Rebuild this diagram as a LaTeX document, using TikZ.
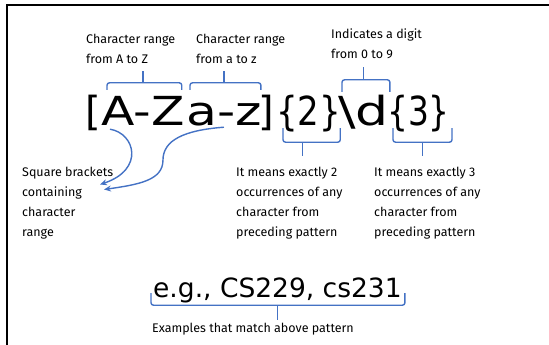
\documentclass[tikz,border=0pt]{standalone}
\usepackage{fontspec}
\setmainfont{DejaVu Sans}
\newfontfamily\lblfam{Fira Sans}
\usetikzlibrary{arrows.meta}
\definecolor{bl}{HTML}{4472C4}
\newcommand\bigf{\fontsize{40}{48}\selectfont}
\newcommand\lblf{\lblfam\fontsize{12.5}{20}\selectfont}
\newcommand\egf{\fontsize{26.5}{30}\selectfont}
\begin{document}
\begin{tikzpicture}[x=1pt,y=-1pt,
  big/.style={font=\bigf, inner sep=0pt, anchor=base west, text height=28pt, text depth=0pt},
  egstyle/.style={font=\egf, inner sep=0pt, anchor=base west, text height=19pt, text depth=0pt},
  lbl/.style={font=\lblf, align=left, anchor=north west, inner sep=0pt},
  brk/.style={draw=bl, line width=1.4pt, rounded corners=2.5pt},
  arr/.style={draw=bl, line width=1.4pt, -{Stealth[length=7pt,width=6pt]}},
  frame/.style={draw=black, line width=1.8pt}]
\useasboundingbox (0,0) rectangle (549,345);
\draw[frame] (7,345) -- (7,5) -- (549,5);

% main pattern
\node[big] (lb) at (85,125) {[};
\node[big] (AZ) at (101,125) {\scalebox{1.22}[1]{A-Z}};
\node[big] (az) at (186,125) {\scalebox{1.26}[1]{a-z}};
\node[big] (rb) at (258,125) {]};
\node[big] (c2) at (276,125) {\scalebox{0.85}[1]{\{2\}}};
\node[big] (dd) at (338,125) {\scalebox{1.3}[1]{\textbackslash d}};
\node[big] (c3) at (387,125) {\scalebox{0.82}[1]{\{3\}}};

% top labels
\node[lbl] (l1) at (86,34) {Character range\\from A to Z};
\node[lbl] (l2) at (196,33.5) {Character range\\from a to z};
\node[lbl] (l3) at (331,29) {Indicates a digit\\from 0 to 9};

% bottom labels
\node[lbl] (sq) at (22,167) {Square brackets\\containing\\character\\range};
\node[lbl] (m2) at (236,167) {It means exactly 2\\occurrences of any\\character from\\preceding pattern};
\node[lbl] (m3) at (374,167) {It means exactly 3\\occurrences of any\\character from\\preceding pattern};

% example
\node[egstyle] (eg) at (153,297) {e.g., CS229, cs231};
\node[lbl] (ex) at (152,323) {Examples that match above pattern};

% top braces
\draw[brk] ([xshift=6pt,yshift=7pt]AZ.north west) |- ([yshift=14pt]AZ.north) -| ([xshift=-3pt,yshift=7pt]AZ.north east);
\draw[brk] ([yshift=14pt]AZ.north) -- ([yshift=26pt]AZ.north);
\draw[brk] ([xshift=4pt,yshift=7pt]az.north west) |- ([yshift=14pt]az.north) -| ([xshift=-1pt,yshift=7pt]az.north east);
\draw[brk] ([yshift=14pt]az.north) -- ([yshift=26pt]az.north);
\draw[brk] ([xshift=4pt,yshift=5pt]dd.north west) |- ([yshift=17pt]dd.north) -| ([xshift=1pt,yshift=5pt]dd.north east);
\draw[brk] ([yshift=17pt]dd.north) -- ([yshift=30pt]dd.north);

% bottom braces
\draw[brk] ([xshift=7pt,yshift=-3pt]c2.south west) |- ([xshift=-6pt,yshift=-17pt]c2.south) -| ([xshift=-1pt,yshift=-3pt]c2.south east);
\draw[brk] ([xshift=-6pt,yshift=-17pt]c2.south) -- ([xshift=-6pt,yshift=-31pt]c2.south);
\draw[brk] ([xshift=6pt,yshift=-3pt]c3.south west) |- ([xshift=4pt,yshift=-17pt]c3.south) -| ([xshift=2pt,yshift=-3pt]c3.south east);
\draw[brk] ([xshift=4pt,yshift=-17pt]c3.south) -- ([xshift=4pt,yshift=-31pt]c3.south);
\draw[brk] ([xshift=-2pt,yshift=4pt]eg.south west) |- ([yshift=-8pt]eg.south) -| ([xshift=3pt,yshift=4pt]eg.south east);
\draw[brk] ([yshift=-8pt]eg.south) -- ([yshift=-23pt]eg.south);

% arrows
\draw[arr] ([shift={(9pt,-4pt)}]AZ.south west) .. controls +(25,4) and +(45,-15) .. ([shift={(78pt,-17.5pt)}]sq.north west);
\draw[arr] ([shift={(0pt,-2pt)}]az.south) .. controls +(-40,3) and +(0,-20) .. ++(-61,33)
  .. controls +(0,20) and +(35,-5) .. ([shift={(82pt,-22.5pt)}]sq.north west);
\end{tikzpicture}
\end{document}
